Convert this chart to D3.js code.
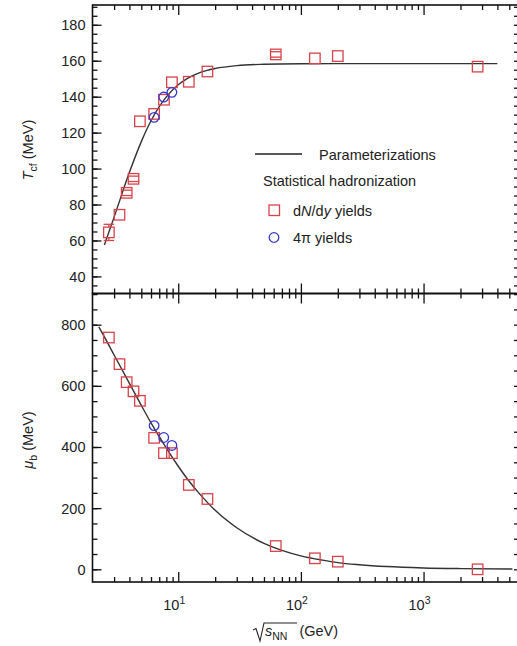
<!DOCTYPE html>
<html>
<head>
  <meta charset="utf-8">
  <title>Freeze-out parameters</title>
  <script src="https://d3js.org/d3.v7.min.js"></script>
  <style>
    body { margin: 0; background: #fff; }
    svg { font-family: "Liberation Sans", Arial, sans-serif; }
    .frame line, .frame path { stroke: #111; }
    .lbl { fill: #222; font-size: 14.5px; }
  </style>
</head>
<body>
  <svg id="screen"></svg>

  <script>
    // sqrt(s_NN) of the dN/dy fits (GeV)
    const energySq = [2.72, 3.32, 3.80, 4.32, 4.87, 6.36, 7.65, 8.88, 12.2, 17.3, 62.4, 130, 200, 2760]
    const tempSq   = [64.5, 74.3, 86.5, 94.3, 126.3, 130.4, 138.3, 148.0, 148.3, 154.0, 163.5, 161.3, 162.6, 156.7]
    const tempErr  = [4.5, 0, 1.5, 1.5, 0, 0, 0, 0, 0, 0, 1.5, 0, 0, 0]
    const muSq     = [758, 671, 612, 582, 551, 430, 380, 380, 276, 230, 76, 36, 25, 0]

    // 4pi yield fits
    const energyCi = [6.36, 7.62, 8.88]
    const tempCi   = [128.5, 139.8, 142.4]
    const muCi     = [470, 431, 405]

    // parameterization curves
    const curveE   = [2.5, 3, 4, 5, 6, 7, 8, 10, 12, 15, 20, 30, 50, 100, 300, 1000, 4000]
    const curveT   = [57.5, 73.0, 97.9, 115.0, 126.6, 134.4, 139.9, 146.6, 150.3, 153.4, 155.7, 157.3, 158.0, 158.3, 158.4, 158.4, 158.4]
    const curveE2  = [2.25, 2.5, 3, 4, 5, 6, 7, 8, 10, 12, 15, 20, 30, 50, 70, 100, 150, 200, 300, 500, 1000, 2000, 5300]
    const curveMu  = [793, 760, 701, 608, 536, 479, 434, 396, 337, 293, 246, 193, 136, 85, 62, 44, 30, 22, 15, 9, 4.5, 2.3, 0.9]

    const tempTicks = [40, 60, 80, 100, 120, 140, 160, 180]
    const muTicks   = [0, 200, 400, 600, 800]
    const xMajor    = [10, 100, 1000]

    const red = "#d8424a", blue = "#3838cc"

    let svg = d3.select('#screen').attr('width', 517).attr('height', 646)

    let left = 92.5, right = 519
    let x = d3.scaleLog().domain([2, 6000]).range([left, right])
    let yT = d3.scaleLinear().domain([30.5, 191]).range([293.5, 5])
    let yM = d3.scaleLinear().domain([-41.5, 902]).range([582, 293.5])

    let xMinor = []
    ;[1, 10, 100, 1000].forEach(d => { for (let k = 2; k <= 9; k++) if (d * k <= 6000 && d * k > 2) xMinor.push(d * k) })

    function frame(y, top, bottom, major, minorStep) {
      let g = svg.append('g').attr('class', 'frame')
      let yMinor = d3.range(Math.ceil(y.domain()[0] / minorStep) * minorStep, y.domain()[1], minorStep)
      // box
      g.append('rect').attr('x', left).attr('y', top).attr('width', right - left).attr('height', bottom - top)
        .attr('fill', 'none').attr('stroke', '#111').attr('stroke-width', 1.6)
      // x ticks, inward on top and bottom
      ;[[top, d3.axisTop], [bottom, d3.axisBottom]].forEach(([yy, ax]) => {
        g.append('g').attr('transform', `translate(0,${yy})`)
          .call(ax(x).tickValues(xMajor).tickSize(-10).tickFormat(''))
          .call(a => a.select('.domain').remove())
        g.append('g').attr('transform', `translate(0,${yy})`)
          .call(ax(x).tickValues(xMinor).tickSize(-5).tickFormat(''))
          .call(a => a.select('.domain').remove())
      })
      // y ticks, inward on left and right
      g.append('g').attr('transform', `translate(${left},0)`)
        .call(d3.axisLeft(y).tickValues(major).tickSize(-9).tickFormat(''))
        .call(a => a.select('.domain').remove())
      g.append('g').attr('transform', `translate(${left},0)`)
        .call(d3.axisLeft(y).tickValues(yMinor).tickSize(-5).tickFormat(''))
        .call(a => a.select('.domain').remove())
      g.append('g').attr('transform', `translate(${right},0)`)
        .call(d3.axisRight(y).tickValues(yMinor).tickSize(-5).tickFormat(''))
        .call(a => a.select('.domain').remove())
      g.selectAll('.tick line').attr('stroke-width', 1.3)
      // y labels
      svg.append('g').selectAll('text').data(major).join('text')
        .attr('class', 'lbl').attr('x', left - 7).attr('y', d => y(d) + 5.5)
        .attr('text-anchor', 'end').text(d => d)
    }

    frame(yT, 5, 293.5, tempTicks, 5)
    frame(yM, 293.5, 582, muTicks, 50)

    // x labels 10^n
    let xl = svg.append('g').selectAll('text').data(xMajor).join('text')
      .attr('class', 'lbl').attr('x', d => x(d) - 4).attr('y', 610).attr('text-anchor', 'middle')
    xl.append('tspan').text('10')
    xl.append('tspan').attr('dy', -6).attr('font-size', '10.5px').text(d => Math.round(Math.log10(d)))

    // axis titles
    let tt = svg.append('text').attr('class', 'lbl').attr('transform', 'translate(33,150) rotate(-90)').attr('text-anchor', 'middle')
    tt.append('tspan').attr('font-style', 'italic').text('T')
    tt.append('tspan').attr('dy', 4).attr('font-size', '10.5px').text('cf')
    tt.append('tspan').attr('dy', -4).text(' (MeV)')
    let tm = svg.append('text').attr('class', 'lbl').attr('transform', 'translate(33,440) rotate(-90)').attr('text-anchor', 'middle')
    tm.append('tspan').attr('font-style', 'italic').text('μ')
    tm.append('tspan').attr('dy', 4).attr('font-size', '10.5px').text('b')
    tm.append('tspan').attr('dy', -4).text(' (MeV)')

    let xt = svg.append('g').attr('transform', 'translate(253,636)')
    xt.append('path').attr('d', 'M0,-6 L3,-7.5 L7,5 L11,-13 L44,-13').attr('fill', 'none').attr('stroke', '#222').attr('stroke-width', 1.1)
    let xtt = xt.append('text').attr('class', 'lbl').attr('x', 12)
    xtt.append('tspan').attr('font-style', 'italic').text('s')
    xtt.append('tspan').attr('dy', 4).attr('font-size', '10.5px').text('NN')
    xtt.append('tspan').attr('dy', -4).attr('dx', 12).text('(GeV)')

    // curves
    let lineT = d3.line().x((d, i) => x(curveE[i])).y(d => yT(d)).curve(d3.curveMonotoneX)
    svg.append('path').attr('d', lineT(curveT)).attr('fill', 'none').attr('stroke', '#333').attr('stroke-width', 1.4)
    let lineM = d3.line().x((d, i) => x(curveE2[i])).y(d => yM(d)).curve(d3.curveMonotoneX)
    svg.append('path').attr('d', lineM(curveMu)).attr('fill', 'none').attr('stroke', '#333').attr('stroke-width', 1.4)

    // markers
    const sq = 10.5
    function squares(y, vals, errs) {
      let g = svg.append('g').attr('stroke', red).attr('fill', 'none').attr('stroke-width', 1.3)
      if (errs) {
        energySq.forEach((e, i) => {
          if (!errs[i]) return
          let cx = x(e), hi = y(vals[i] + errs[i]), lo = y(vals[i] - errs[i]), c = y(vals[i])
          ;[hi, lo].forEach(v => {
            g.append('line').attr('x1', cx - sq / 2).attr('x2', cx + sq / 2).attr('y1', v).attr('y2', v)
          })
          // stem only outside the box
          if (c - hi > sq / 2) g.append('line').attr('x1', cx).attr('x2', cx).attr('y1', hi).attr('y2', c - sq / 2)
          if (lo - c > sq / 2) g.append('line').attr('x1', cx).attr('x2', cx).attr('y1', c + sq / 2).attr('y2', lo)
        })
      }
      g.selectAll('rect').data(vals).join('rect')
        .attr('x', (d, i) => x(energySq[i]) - sq / 2).attr('y', d => y(d) - sq / 2)
        .attr('width', sq).attr('height', sq)
    }
    function circles(y, vals) {
      svg.append('g').selectAll('circle').data(vals).join('circle')
        .attr('cx', (d, i) => x(energyCi[i])).attr('cy', d => y(d)).attr('r', 4.8)
        .attr('fill', 'none').attr('stroke', blue).attr('stroke-width', 1.3)
    }
    squares(yT, tempSq, tempErr)
    circles(yT, tempCi)
    squares(yM, muSq)
    circles(yM, muCi)

    // legend
    let lg = svg.append('g')
    lg.append('line').attr('x1', 255).attr('x2', 302).attr('y1', 154).attr('y2', 154).attr('stroke', '#222').attr('stroke-width', 1.3)
    lg.append('text').attr('class', 'lbl').attr('x', 319).attr('y', 159.5).text('Parameterizations')
    lg.append('text').attr('class', 'lbl').attr('x', 263).attr('y', 185.5).text('Statistical hadronization')
    lg.append('rect').attr('x', 269).attr('y', 205).attr('width', sq).attr('height', sq).attr('fill', 'none').attr('stroke', red).attr('stroke-width', 1.3)
    let l1 = lg.append('text').attr('class', 'lbl').attr('x', 293).attr('y', 215.5)
    l1.append('tspan').text('d')
    l1.append('tspan').attr('font-style', 'italic').text('N')
    l1.append('tspan').text('/d')
    l1.append('tspan').attr('font-style', 'italic').text('y')
    l1.append('tspan').text(' yields')
    lg.append('circle').attr('cx', 274).attr('cy', 237.5).attr('r', 4.8).attr('fill', 'none').attr('stroke', blue).attr('stroke-width', 1.3)
    lg.append('text').attr('class', 'lbl').attr('x', 293).attr('y', 243).text('4π yields')
  </script>
</body>
</html>
